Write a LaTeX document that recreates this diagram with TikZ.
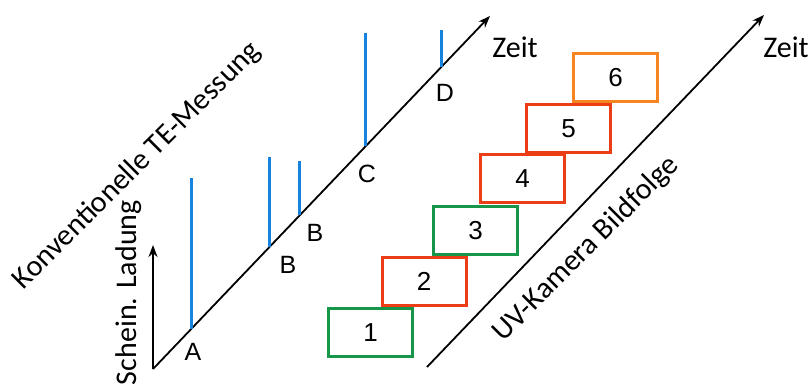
\documentclass[tikz,border=0pt]{standalone}
\usepackage{fontspec}
\setmainfont{Carlito}
\newfontfamily\arialfont{Liberation Sans}
\usetikzlibrary{arrows.meta,calc}
\definecolor{framegreen}{RGB}{22,150,72}
\definecolor{framered}{RGB}{236,62,22}
\definecolor{frameorange}{RGB}{246,132,32}
\definecolor{peakblue}{RGB}{22,132,222}
\tikzset{
  frame/.style={draw=#1,line width=3pt,minimum width=84pt,minimum height=48pt,inner sep=0pt,font=\arialfont\fontsize{26}{26}\selectfont},
  peak/.style={draw=peakblue,line width=3pt},
  timeaxis/.style={line width=1.8pt,-{Stealth[length=12pt,width=9pt]}},
  letter/.style={font=\arialfont\fontsize{25}{25}\selectfont,inner sep=0pt},
  caption/.style={font=\fontsize{30}{30}\selectfont,inner sep=0pt}
}
\begin{document}
\begin{tikzpicture}[x=1pt,y=-1pt]
\useasboundingbox (0,0) rectangle (810,383);
% conventional measurement
\coordinate (O) at (153,369);
\coordinate (T) at (490,16);
\coordinate (Q) at (153,245);
\draw [timeaxis] (O) -- (T);
\draw [timeaxis] (O) -- (Q);
\coordinate (pA) at ($(O)!0.113!(T)$);
\coordinate (pB) at ($(O)!0.347!(T)$);
\coordinate (pBB) at ($(O)!0.436!(T)$);
\coordinate (pC) at ($(O)!0.632!(T)$);
\coordinate (pD) at ($(O)!0.855!(T)$);
\draw [peak] (pA) -- (pA |- 0,178);
\draw [peak] (pB) -- (pB |- 0,157);
\draw [peak] (pBB) -- (pBB |- 0,161);
\draw [peak] (pC) -- (pC |- 0,33);
\draw [peak] (pD) -- (pD |- 0,30);
\node [letter] (lA) at (193,352) {A};
\node [letter] (lB) at (288,265) {B};
\node [letter] (lBB) at (315,233) {B};
\node [letter] (lC) at (367,174) {C};
\node [letter] (lD) at (445,93) {D};
\node [caption] (zeitL) at (515,47) {Zeit};
\node [caption,rotate=90,anchor=east] (ladung) at (129,200) {Schein. Ladung};
\node [caption,rotate=45] (te) at (137,166) {Konventionelle TE-Messung};
% camera frames
\coordinate (U) at (427,367);
\coordinate (V) at (764,15);
\draw [timeaxis] (U) -- (V);
\node [caption] (zeitR) at (786,47) {Zeit};
\node [caption,rotate=45] (uv) at (586,249) {UV-Kamera Bildfolge};
\node [frame=framegreen] (f1) at (370.5,332.5) {1};
\node [frame=framered] (f2) at (424,281.5) {2};
\node [frame=framegreen] (f3) at (475.5,230.5) {3};
\node [frame=framered] (f4) at (522.5,178.5) {4};
\node [frame=framered] (f5) at (568.5,128.5) {5};
\node [frame=frameorange] (f6) at (615.5,77.5) {6};
\end{tikzpicture}
\end{document}
